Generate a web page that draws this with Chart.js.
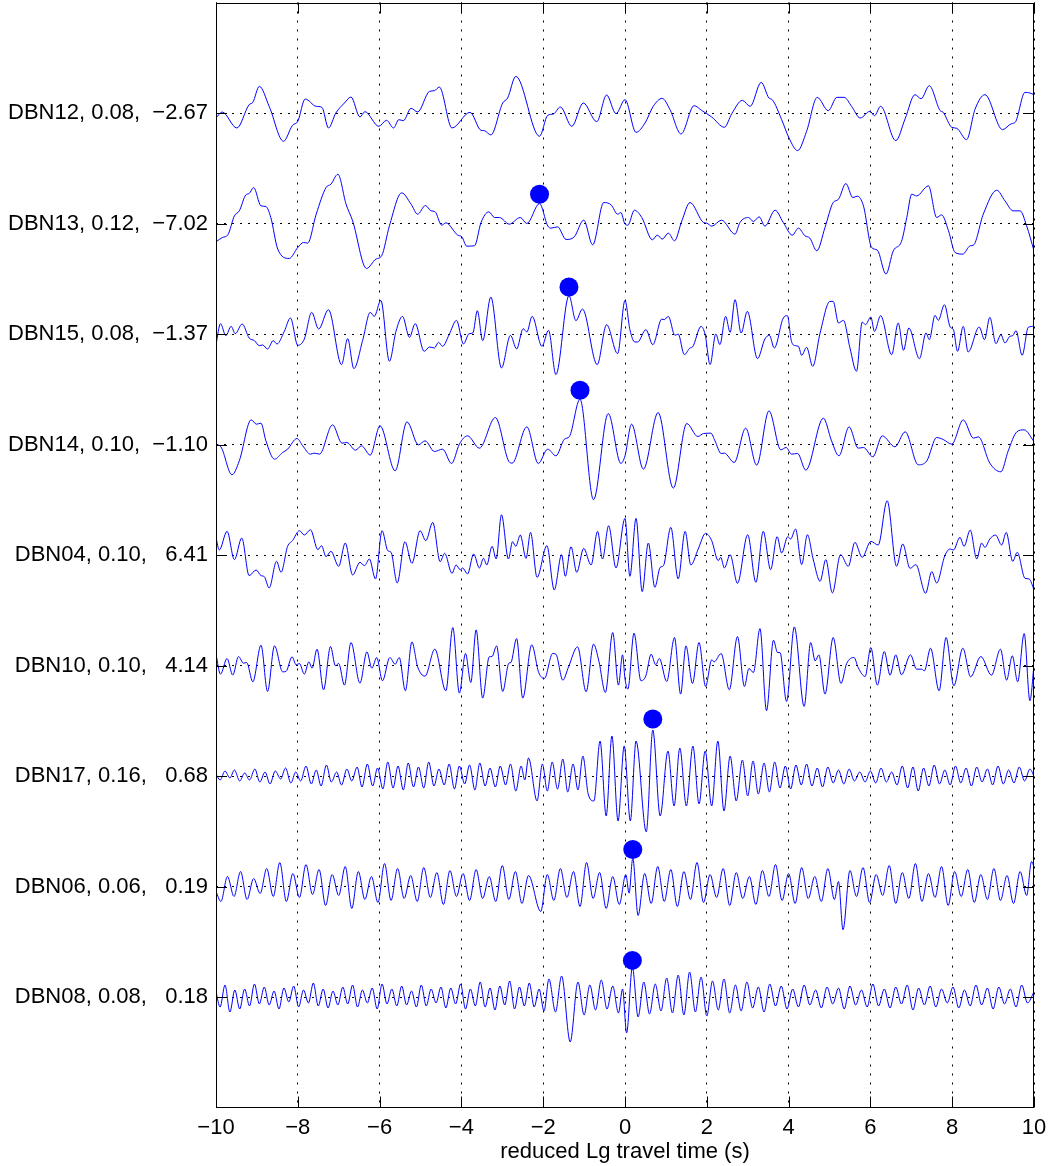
<!DOCTYPE html>
<html>
<head>
<meta charset="utf-8">
<script src="https://cdn.jsdelivr.net/npm/chart.js@4/dist/chart.umd.min.js"></script>
<style>
  html, body { margin: 0; padding: 0; background: #fff; }
  canvas { display: block; }
</style>
</head>
<body>
<canvas id="c" width="1052" height="1166"></canvas>
<script>
// Station order, top to bottom
const stations = ['DBN12', 'DBN13', 'DBN15', 'DBN14', 'DBN04', 'DBN10', 'DBN17', 'DBN06', 'DBN08'];
const stationRatios = ['0.08', '0.12', '0.08', '0.10', '0.10', '0.10', '0.16', '0.06', '0.08'];
// time of the largest peak on each trace (s)
const peakTimes = [-2.67, -7.02, -1.37, -1.10, 6.41, 4.14, 0.68, 0.19, 0.18];
const xTicks = [-10, -8, -6, -4, -2, 0, 2, 4, 6, 8, 10];

// Waveform turning points: reduced time (s) and amplitude (counts)
const dbn12Time = [-10.00,-9.85,-9.49,-9.19,-9.10,-8.94,-8.70,-8.35,-8.13,-8.00,-7.82,-7.55,-7.41,-7.25,-7.07,-6.86,-6.70,-6.48,-6.36,-6.02,-5.83,-5.66,-5.53,-5.42,-5.23,-5.07,-4.78,-4.66,-4.54,-4.23,-3.79,-3.52,-3.44,-3.28,-2.99,-2.87,-2.67,-2.09,-1.89,-1.75,-1.58,-1.30,-1.02,-0.69,-0.45,-0.22,
  0.00,0.27,0.49,0.69,0.91,1.10,1.37,1.69,1.87,2.12,2.43,2.61,2.87,3.06,3.33,3.52,3.60,3.83,4.01,4.22,4.44,4.70,4.97,5.18,5.36,5.54,5.75,5.99,6.10,6.25,6.62,6.85,7.09,7.24,7.44,7.70,7.78,7.99,8.11,8.35,8.56,8.80,9.23,9.45,9.54,9.78,9.90,10.00];
const dbn12Amp = [-15,3,-45,25,32,80,20,-85,-37,-25,42,20,17,-45,0,30,48,-12,4,-40,-22,-45,-20,-23,14,3,65,67,78,-45,2,-52,-53,-66,30,45,110,-70,-7,-3,18,-40,30,-26,54,-2,
  40,-58,-30,20,44,10,-63,22,8,-12,-43,-2,38,20,92,45,40,-20,-75,-113,-55,47,7,47,47,20,-15,5,-8,20,-83,-17,55,43,82,8,2,-43,-46,-80,12,55,-50,-32,-28,62,60,55];

const dbn13Time = [-10.00,-9.84,-9.71,-9.55,-9.43,-9.27,-9.19,-9.08,-8.90,-8.78,-8.66,-8.49,-8.21,-8.00,-7.86,-7.76,-7.55,-7.31,-7.19,-7.02,-6.82,-6.66,-6.32,-6.09,-5.95,-5.76,-5.46,-5.23,-5.07,-4.88,-4.74,-4.65,-4.48,-4.38,-4.09,-3.99,-3.87,-3.68,-3.52,-3.33,-3.19,-3.07,-2.83,-2.56,-2.40,-2.09,-1.89,-1.81,-1.65,-1.44,-1.24,-1.01,-0.79,-0.52,-0.34,-0.18,-0.10,
  0.00,0.07,0.23,0.41,0.67,0.79,0.91,1.06,1.21,1.39,1.59,1.92,2.00,2.12,2.36,2.69,2.81,3.02,3.14,3.28,3.42,3.67,3.87,4.09,4.24,4.40,4.52,4.69,4.89,5.09,5.22,5.40,5.57,5.68,5.83,6.03,6.17,6.38,6.56,6.76,6.89,7.01,7.13,7.42,7.62,7.74,7.91,8.07,8.26,8.44,8.52,8.76,9.09,9.29,9.49,9.66,9.82,10.00];
const dbn13Amp = [-55,-42,-34,23,38,86,90,108,53,51,18,-77,-105,-72,-57,-59,28,108,118,148,58,8,-135,-107,-97,-7,92,58,28,54,38,36,-5,2,-35,-40,-68,-67,3,35,18,18,-2,18,0,60,-7,-14,-10,-48,-40,10,-64,63,56,28,33,
  -2,-5,40,18,-49,-35,-47,-29,-52,8,63,3,1,-8,10,-32,3,18,6,20,-8,40,3,-35,-14,-37,-44,-82,-12,63,73,120,78,82,53,-72,-80,-152,-82,-54,18,88,83,113,18,26,-22,-87,-92,-67,-65,28,100,68,38,38,-7,-82];

const dbn15Time = [-10.00,-9.89,-9.76,-9.63,-9.53,-9.36,-9.19,-9.06,-8.94,-8.86,-8.74,-8.60,-8.51,-8.33,-8.18,-8.00,-7.84,-7.66,-7.49,-7.25,-6.93,-6.78,-6.63,-6.41,-6.23,-6.13,-5.97,-5.76,-5.60,-5.44,-5.27,-5.13,-4.91,-4.78,-4.66,-4.56,-4.46,-4.30,-4.12,-3.95,-3.81,-3.72,-3.61,-3.48,-3.28,-3.02,-2.80,-2.65,-2.49,-2.40,-2.27,-2.03,-1.87,-1.69,-1.37,-1.20,-1.04,-0.68,-0.45,-0.18,
  0.00,0.12,0.24,0.31,0.51,0.68,0.90,0.96,1.06,1.22,1.30,1.45,1.59,1.65,1.86,1.96,2.08,2.22,2.32,2.46,2.57,2.69,2.84,2.99,3.24,3.42,3.53,3.65,3.87,3.97,4.07,4.16,4.24,4.32,4.44,4.59,4.77,5.01,5.09,5.22,5.34,5.50,5.66,5.80,5.88,6.01,6.10,6.25,6.52,6.68,6.81,6.94,7.20,7.36,7.44,7.58,7.66,7.81,7.95,8.03,8.13,8.27,8.39,8.66,8.79,8.92,9.07,9.19,9.29,9.41,9.48,9.56,9.71,9.86,10.00];
const dbn15Amp = [-32,31,-5,23,1,30,-12,-20,-35,-33,-45,-20,-30,8,48,-34,-15,65,15,73,-92,-14,-104,-17,65,53,101,-82,8,53,-10,31,-52,-39,-42,-25,-37,-2,41,-30,1,3,70,-20,111,-102,-4,-45,16,6,53,-37,11,-122,115,40,75,-92,28,-59,
  101,13,-24,-24,13,-32,45,43,53,-4,0,-62,-42,-39,23,-2,-92,0,-32,53,5,103,3,68,-74,-15,-4,-42,48,55,-22,-35,-37,-64,-40,-97,3,98,98,33,41,-42,-112,36,28,51,8,55,-62,33,-49,18,-74,3,-17,56,41,88,21,13,-52,23,-54,21,-17,50,-29,-2,-27,-7,-5,10,-64,20,23];

const dbn14Time = [-10.00,-9.88,-9.61,-9.43,-9.14,-9.01,-8.90,-8.78,-8.57,-8.37,-8.25,-8.02,-7.88,-7.69,-7.60,-7.47,-7.15,-6.92,-6.80,-6.59,-6.44,-6.23,-5.99,-5.62,-5.33,-5.05,-4.89,-4.66,-4.46,-4.24,-4.05,-3.85,-3.56,-3.17,-2.84,-2.76,-2.40,-2.12,-1.89,-1.69,-1.48,-1.36,-1.10,-0.77,-0.41,-0.10,
  0.00,0.16,0.45,0.81,1.18,1.51,1.78,1.92,2.10,2.20,2.35,2.43,2.67,2.95,3.22,3.52,3.81,3.94,4.07,4.22,4.42,4.85,5.05,5.23,5.48,5.70,5.83,6.06,6.29,6.60,6.85,7.17,7.38,7.62,7.78,7.99,8.27,8.52,8.64,8.92,9.19,9.37,9.58,9.76,10.00];
const dbn14Amp = [0,-7,-91,-49,74,61,64,11,-44,-24,-14,18,-4,-29,-26,-29,59,4,6,-17,-4,-32,56,-79,68,-1,11,-21,-14,-57,1,26,-11,81,-51,-56,53,-57,-14,-34,16,24,136,-166,93,-57,
  -34,61,-74,96,-131,63,24,33,34,11,-27,-26,-54,49,-62,101,-16,-9,-29,-27,-77,79,11,-34,53,-11,-9,-37,26,-7,38,-61,-49,21,15,1,74,19,23,-56,-82,-19,38,44,9];

const dbn04Time = [-10.00,-9.92,-9.73,-9.55,-9.37,-9.19,-9.02,-8.90,-8.82,-8.70,-8.52,-8.41,-8.25,-8.13,-7.96,-7.84,-7.69,-7.51,-7.42,-7.31,-7.19,-7.00,-6.84,-6.66,-6.48,-6.37,-6.25,-6.10,-5.94,-5.80,-5.72,-5.57,-5.38,-5.21,-5.01,-4.87,-4.70,-4.52,-4.41,-4.23,-4.13,-4.03,-3.97,-3.85,-3.70,-3.56,-3.46,-3.38,-3.25,-3.15,-3.02,-2.85,-2.75,-2.67,-2.56,-2.42,-2.31,-2.15,-1.91,-1.73,-1.55,-1.46,-1.32,-1.18,-1.01,-0.83,-0.67,-0.55,-0.40,-0.22,
  0.00,0.12,0.27,0.42,0.57,0.73,0.86,0.94,1.12,1.30,1.47,1.61,1.79,1.97,2.12,2.28,2.34,2.43,2.57,2.75,3.00,3.20,3.38,3.56,3.72,3.83,3.98,4.05,4.17,4.32,4.46,4.60,4.77,4.91,5.07,5.27,5.46,5.62,5.80,6.01,6.19,6.41,6.64,6.79,6.97,7.11,7.35,7.50,7.62,7.82,7.95,8.03,8.19,8.29,8.44,8.60,8.72,8.80,8.92,9.06,9.21,9.32,9.48,9.59,9.78,9.88,10.00];
const dbn04Amp = [53,15,71,-14,51,-62,-45,-62,-65,-99,-19,-52,26,43,73,60,76,16,28,-5,11,-34,36,-60,-22,-32,-12,-72,73,13,8,-84,40,-25,73,43,98,-20,5,-55,-30,-44,-39,-57,3,-39,-10,-30,26,-12,121,-12,40,26,60,-10,68,-67,28,-105,1,-64,25,-52,20,-30,71,-12,88,-39,
  110,-64,110,-110,36,-97,-37,-32,83,-72,71,-30,18,65,43,-17,-7,-39,1,-85,61,-82,71,-44,55,6,55,48,78,-29,61,-12,-79,-14,-114,1,-34,38,-7,41,30,163,-34,33,-40,-29,-115,-50,-84,-2,18,15,53,26,75,-12,36,23,48,60,30,68,-19,8,-70,-72,-104];

const dbn10Time = [-10.00,-9.89,-9.73,-9.59,-9.45,-9.33,-9.25,-9.10,-8.90,-8.74,-8.57,-8.37,-8.29,-8.14,-8.04,-7.96,-7.84,-7.73,-7.65,-7.53,-7.37,-7.20,-7.08,-7.00,-6.86,-6.70,-6.48,-6.31,-6.19,-6.07,-5.93,-5.75,-5.62,-5.52,-5.37,-5.21,-5.07,-4.89,-4.65,-4.38,-4.21,-4.05,-3.90,-3.77,-3.64,-3.48,-3.32,-3.25,-3.14,-2.99,-2.84,-2.79,-2.65,-2.50,-2.28,-2.11,-1.97,-1.77,-1.69,-1.52,-1.38,-1.16,-0.95,-0.77,-0.64,-0.48,-0.30,-0.16,-0.06,
  0.00,0.07,0.22,0.39,0.51,0.64,0.75,0.84,1.02,1.21,1.36,1.49,1.65,1.81,1.97,2.12,2.18,2.35,2.55,2.75,2.92,3.03,3.14,3.30,3.46,3.63,3.73,3.79,3.95,4.14,4.38,4.54,4.65,4.74,4.89,5.09,5.28,5.42,5.60,5.70,5.87,6.01,6.17,6.34,6.48,6.62,6.76,6.98,7.13,7.25,7.32,7.47,7.68,7.85,8.04,8.26,8.45,8.70,8.96,9.18,9.33,9.47,9.60,9.76,9.90,10.00];
const dbn10Amp = [34,-26,21,-29,27,7,9,-49,61,-78,59,-19,-18,26,2,6,-26,11,-8,49,-73,57,-1,6,-59,69,-53,41,-8,24,-46,24,4,24,-76,71,-4,-32,49,-76,114,-83,36,-51,107,-98,26,27,59,-78,7,9,81,-98,62,-21,-39,36,34,-44,-4,56,-79,64,14,-81,99,-59,32,
  -40,-71,97,-46,-31,34,2,21,-48,84,-86,59,-54,69,-63,17,11,36,-73,87,-63,-9,-21,111,-136,76,39,39,-108,116,-123,69,14,32,-86,84,-54,6,24,-6,-33,54,-59,42,-29,32,-28,32,-11,-11,-16,52,-76,84,-61,52,-34,27,-29,49,-44,29,-49,96,-106,1];

const dbn17Time = [-10.00,-9.90,-9.78,-9.66,-9.55,-9.42,-9.30,-9.18,-9.05,-8.93,-8.80,-8.68,-8.55,-8.42,-8.30,-8.17,-8.05,-7.93,-7.80,-7.67,-7.55,-7.43,-7.30,-7.18,-7.05,-6.93,-6.80,-6.68,-6.55,-6.43,
  -6.30,-6.17,-6.05,-5.92,-5.80,-5.67,-5.55,-5.42,-5.30,-5.17,-5.05,-4.92,-4.80,-4.67,-4.55,-4.42,-4.30,-4.17,-4.05,-3.92,-3.80,-3.67,-3.55,-3.42,-3.30,-3.17,-3.05,
  -2.92,-2.80,-2.67,-2.54,-2.45,-2.36,-2.15,-2.02,-1.90,-1.78,-1.65,-1.52,-1.40,-1.27,-1.15,-1.03,-0.90,
  -0.76,-0.61,-0.46,-0.32,-0.17,-0.02,0.13,0.27,0.52,0.68,0.86,1.05,1.20,1.34,1.50,1.66,1.81,1.96,2.12,2.27,2.42,2.57,2.72,
  2.87,3.00,3.13,3.26,3.40,3.53,3.66,3.79,3.92,4.05,4.18,4.31,4.44,4.57,4.70,4.83,4.96,5.09,5.22,5.35,5.48,5.61,5.74,5.87,6.00,6.13,6.26,6.39,6.52,6.65,6.78,6.91,7.04,7.17,7.30,7.43,7.56,7.69,7.82,7.95,8.08,8.21,8.34,8.47,8.60,8.73,8.86,8.99,9.12,9.25,9.38,9.51,9.64,9.77,9.90,10.00];
const dbn17Amp = [5,-12,15,-6,18,-15,9,-12,21,-18,12,-24,15,-9,24,-21,12,-15,30,-24,18,-30,33,-18,12,-27,21,-15,27,-33,
  36,-30,24,-39,42,-36,30,-42,39,-33,27,-36,42,-30,21,-27,36,-39,30,-24,33,-42,39,-30,24,-33,30,
  -27,36,-45,30,-12,54,-75,36,-45,42,-39,51,-48,36,-42,60,-54,
  -75,105,-120,120,-135,90,-135,105,-168,138,-120,75,-90,84,-90,90,-84,75,-90,105,-105,60,-75,
  48,-60,45,-54,39,-48,42,-36,30,-39,33,-27,36,-30,24,-33,27,-21,18,-24,21,-15,12,-18,15,-21,24,-18,12,-27,30,-36,27,-45,24,-30,33,-24,18,-27,30,-21,24,-30,27,-18,21,-27,30,-24,18,-21,27,-15,21,0];

const dbn06Time = [-10.00,-9.88,-9.72,-9.56,-9.40,-9.24,-9.08,-8.92,-8.76,-8.60,-8.44,-8.28,-8.12,-7.96,-7.80,-7.64,-7.48,-7.32,-7.16,-7.00,-6.84,-6.68,-6.52,-6.36,-6.20,-6.04,-5.88,-5.72,-5.56,-5.40,-5.24,-5.08,-4.92,-4.76,-4.60,-4.44,-4.28,-4.12,-3.96,-3.80,-3.64,-3.48,-3.32,-3.16,-3.00,-2.84,-2.68,-2.52,-2.36,-2.06,-1.90,-1.74,-1.58,-1.42,-1.26,-1.10,-0.94,-0.78,-0.62,-0.46,-0.30,-0.14,0.02,0.10,
  0.19,0.32,0.48,0.64,0.80,0.96,1.12,1.28,1.44,1.60,1.76,1.92,2.08,2.24,2.40,2.56,2.72,2.88,3.04,3.20,3.36,3.52,3.68,3.84,4.00,4.16,4.32,4.48,4.64,4.80,4.96,5.12,5.22,5.33,5.50,5.66,5.82,5.98,6.14,6.30,6.46,6.62,6.78,6.94,7.10,7.26,7.42,7.58,7.74,7.90,8.06,8.22,8.38,8.54,8.70,8.86,9.02,9.18,9.34,9.50,9.66,9.82,9.94,10.00];
const dbn06Amp = [-15,-45,30,-30,45,-39,24,-21,54,-30,72,-45,39,-33,66,-24,51,-57,36,-27,60,-66,45,-39,30,-48,69,-42,54,-36,33,-45,57,-33,42,-54,48,-30,39,-42,51,-36,30,-45,63,-39,45,-51,33,-75,36,-42,54,-33,45,-60,72,-36,42,-66,30,-54,36,-20,
  85,-87,39,-51,60,-45,51,-60,45,-39,72,-48,36,-33,54,-57,42,-36,30,-54,48,-30,66,-42,39,-51,57,-36,30,-45,54,-39,15,-130,48,-30,57,-48,36,-27,63,-51,42,-36,69,-45,39,-33,60,-57,45,-30,51,-48,36,-39,54,-42,33,-51,45,-27,75,60];

const dbn08Time = [-10.00,-9.90,-9.78,-9.66,-9.54,-9.42,-9.30,-9.18,-9.06,-8.94,-8.82,-8.70,-8.58,-8.46,-8.34,-8.22,-8.10,-7.98,-7.86,-7.74,-7.62,-7.50,-7.38,-7.26,-7.14,-7.02,-6.90,-6.78,-6.66,-6.54,-6.42,-6.30,-6.18,-6.06,-5.94,-5.82,-5.70,-5.58,-5.46,-5.34,-5.22,-5.10,-4.98,-4.86,-4.74,-4.62,-4.50,-4.38,-4.26,-4.14,-4.02,-3.90,-3.78,-3.66,-3.54,-3.42,-3.30,-3.18,-3.06,-2.94,-2.82,-2.70,-2.58,-2.46,-2.34,-2.22,-2.10,-1.98,-1.86,-1.70,-1.55,-1.34,-1.15,-1.00,-0.86,-0.72,-0.58,-0.44,-0.30,-0.16,-0.06,0.04,
  0.18,0.32,0.46,0.60,0.74,0.88,1.02,1.16,1.30,1.44,1.58,1.72,1.86,2.00,2.14,2.28,2.42,2.56,2.70,2.84,2.98,3.12,3.26,3.40,3.54,3.68,3.82,3.96,4.10,4.24,4.38,4.52,4.66,4.80,4.94,5.08,5.22,5.36,5.50,5.64,5.78,5.92,6.06,6.20,6.34,6.48,6.62,6.76,6.90,7.04,7.18,7.32,7.46,7.60,7.74,7.88,8.02,8.16,8.30,8.44,8.58,8.72,8.86,9.00,9.14,9.28,9.42,9.56,9.70,9.84,10.00];
const dbn08Amp = [15,-30,36,-45,21,-36,24,-27,39,-21,30,-24,18,-36,27,-15,33,-30,21,-18,42,-27,24,-33,18,-24,30,-21,36,-30,21,-18,27,-36,39,-21,24,-27,33,-24,18,-30,36,-27,24,-18,30,-33,27,-21,39,-36,24,-27,45,-30,27,-39,33,-24,48,-36,30,-27,42,-30,24,-42,54,-45,63,-135,45,-54,36,-39,51,-36,33,-48,24,-108,
  90,-60,45,-51,39,-42,57,-48,66,-54,75,-45,60,-57,48,-39,54,-48,36,-42,45,-33,30,-45,39,-27,33,-36,24,-30,36,-24,21,-33,30,-21,27,-36,33,-24,21,-30,39,-27,24,-33,30,-21,36,-39,27,-24,33,-30,24,-18,30,-33,21,-27,36,-24,27,-36,30,-21,24,-30,36,-18,15];

// Onset picks (filled markers)
const pickStations = ['DBN13', 'DBN15', 'DBN14', 'DBN17', 'DBN06', 'DBN08'];
const pickTimes = [-2.09, -1.37, -1.10, 0.68, 0.19, 0.18];
const pickAmps = [88, 141, 163, 171, 111, 110];

// counts per trace spacing
const countsPerRow = 332;

const traceTimes = [dbn12Time, dbn13Time, dbn15Time, dbn14Time, dbn04Time, dbn10Time, dbn17Time, dbn06Time, dbn08Time];
const traceAmps = [dbn12Amp, dbn13Amp, dbn15Amp, dbn14Amp, dbn04Amp, dbn10Amp, dbn17Amp, dbn06Amp, dbn08Amp];

const MINUS = '\u2212';
function fmtTime(v) {
  const s = Math.abs(v).toFixed(2);
  return v < 0 ? '  ' + MINUS + s : '   ' + s;
}
const rowLabels = stations.map((s, i) => s + ', ' + stationRatios[i] + ',' + fmtTime(peakTimes[i]));
const rows = stations.map((s, i) => i + 1);

const FONT = "'Liberation Sans', Arial, Helvetica, sans-serif";
const BLUE = '#0000ff';

const datasets = stations.map((s, i) => ({
  label: s,
  data: traceTimes[i].map((t, k) => ({ x: t, y: rows[i] - traceAmps[i][k] / countsPerRow })),
  borderColor: BLUE,
  borderWidth: 1,
  pointRadius: 0,
  fill: false,
  cubicInterpolationMode: 'monotone'
}));

datasets.push({
  type: 'scatter',
  label: 'picks',
  data: pickStations.map((s, k) => ({ x: pickTimes[k], y: rows[stations.indexOf(s)] - pickAmps[k] / countsPerRow })),
  backgroundColor: BLUE,
  borderColor: BLUE,
  pointRadius: 9.5,
  pointBorderWidth: 0
});

// Axes box with inward tick marks
const frame = {
  id: 'frame',
  afterDatasetsDraw(chart) {
    const { ctx, chartArea: a, scales: { x, y } } = chart;
    const len = 11;
    ctx.save();
    ctx.strokeStyle = '#000';
    ctx.lineWidth = 1;
    ctx.strokeRect(Math.round(a.left) + 0.5, Math.round(a.top) + 0.5, Math.round(a.right - a.left) - 1, Math.round(a.bottom - a.top) - 1);
    ctx.beginPath();
    xTicks.forEach(v => {
      const px = Math.round(x.getPixelForValue(v)) + 0.5;
      ctx.moveTo(px, a.bottom); ctx.lineTo(px, a.bottom - len);
      ctx.moveTo(px, a.top); ctx.lineTo(px, a.top + len);
    });
    rows.forEach(r => {
      const py = Math.round(y.getPixelForValue(r)) + 0.5;
      ctx.moveTo(a.left, py); ctx.lineTo(a.left + len, py);
      ctx.moveTo(a.right, py); ctx.lineTo(a.right - len, py);
    });
    ctx.stroke();
    ctx.restore();
  }
};

new Chart(document.getElementById('c'), {
  type: 'line',
  data: { datasets },
  options: {
    responsive: false,
    animation: false,
    events: [],
    layout: { autoPadding: false, padding: { left: 0, right: 18, top: 2.5, bottom: 0 } },
    plugins: { legend: { display: false }, tooltip: { enabled: false } },
    scales: {
      x: {
        type: 'linear',
        min: -10, max: 10,
        afterBuildTicks: s => { s.ticks = xTicks.map(v => ({ value: v })); },
        afterFit: s => { s.height = 58.5; s.paddingLeft = 0; s.paddingRight = 0; },
        ticks: {
          color: '#000',
          font: { family: FONT, size: 22 },
          padding: 7,
          maxRotation: 0,
          callback: v => (v < 0 ? MINUS + Math.abs(v) : String(v))
        },
        grid: { color: '#000', lineWidth: 1, drawTicks: false },
        border: { display: false, dash: [2, 7] },
        title: {
          display: true,
          text: 'reduced Lg travel time (s)',
          color: '#000',
          font: { family: FONT, size: 22 },
          padding: { top: 0, bottom: 1 }
        }
      },
      y: {
        type: 'linear',
        min: 0, max: 10,
        reverse: true,
        afterBuildTicks: s => { s.ticks = rows.map(v => ({ value: v })); },
        afterFit: s => { s.width = 216; s.paddingTop = 0; s.paddingBottom = 0; },
        ticks: {
          color: '#000',
          font: { family: FONT, size: 22 },
          padding: 8,
          autoSkip: false,
          callback: v => rowLabels[rows.indexOf(v)]
        },
        grid: { color: '#000', lineWidth: 1, drawTicks: false },
        border: { display: false, dash: [2, 6] }
      }
    }
  },
  plugins: [frame]
});
</script>
</body>
</html>
